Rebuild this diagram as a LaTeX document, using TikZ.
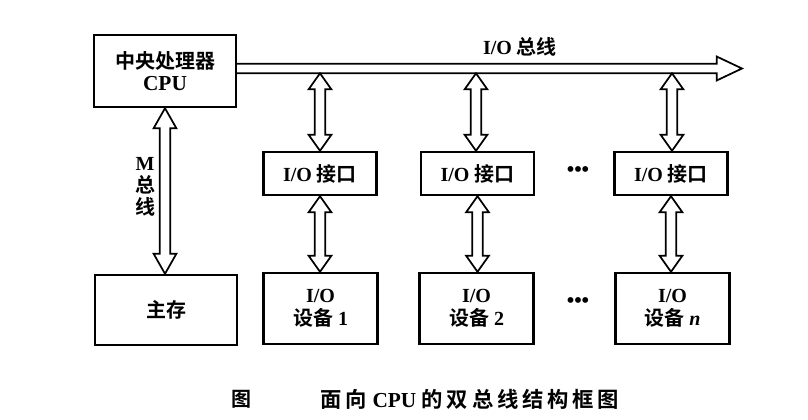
\documentclass[tikz,border=0pt]{standalone}
\usepackage{fontspec}
\setmainfont{Liberation Serif}
\newfontfamily\cjk{Noto Sans CJK SC}[BoldFont={Noto Sans CJK SC Bold}]
\newfontfamily\cjkcap{Noto Sans CJK SC}[BoldFont={Noto Sans CJK SC Bold},BoldFeatures={LetterSpace=18}]
\newcommand\zh[1]{{\cjk #1}}
\newcommand\zhc[1]{{\cjkcap #1}}
\usetikzlibrary{calc}
\tikzset{
  box/.style={draw, line width=1.8pt, align=center, inner sep=0pt},
  ifbox/.style={box, minimum width=84.75pt, minimum height=32.25pt},
  devbox/.style={box, minimum width=85.5pt, minimum height=53.25pt},
  arr/.style={draw, line width=1.3pt, line join=miter, fill=white},
  lbl/.style={inner sep=0pt, align=center}
}
\newcommand\vdarrow[3][12pt]{%
  \draw[arr] let \p1=(#2), \p2=(#3) in
    (\x1,\y1) -- (\x1-8.5pt,\y1-#1) -- (\x1-4pt,\y1-#1) -- (\x1-4pt,\y2+#1)
    -- (\x1-8.5pt,\y2+#1) -- (\x1,\y2) -- (\x1+8.5pt,\y2+#1) -- (\x1+4pt,\y2+#1)
    -- (\x1+4pt,\y1-#1) -- (\x1+8.5pt,\y1-#1) -- cycle;}
\begin{document}
\begin{tikzpicture}[x=0.75pt, y=-0.75pt, font=\bfseries\fontsize{15}{16.5}\selectfont]
\useasboundingbox (0,0) rectangle (808,419);
% main boxes
\node[box, minimum width=106.5pt, minimum height=54pt] (cpu) at (165,71) {\zh{中央处理器}\\{\fontsize{16}{16.5}\selectfont CPU}};
\node[box, minimum width=106.5pt, minimum height=52.5pt] (mem) at (166,310) {\zh{主存}};
\node[ifbox] (if1) at (320,173.5) {I/O \zh{接口}};
\node[ifbox] (if2) at (477.5,173.5) {I/O \zh{接口}};
\node[ifbox] (if3) at (671,173.5) {I/O \zh{接口}};
\node[devbox] (dev1) at (320.5,308.5) {I/O\\[1pt]\zh{设备} 1};
\node[devbox] (dev2) at (476.5,308.5) {I/O\\[1pt]\zh{设备} 2};
\node[devbox] (dev3) at (672.5,308.5) {I/O\\[1pt]\zh{设备} \textit{n}};
% I/O bus
\coordinate (bustip) at (742,68.5);
\draw[arr, fill=none] let \p1=(cpu.east), \p2=(bustip) in
  (\x1,\y2+3.6pt) -- (\x2-19pt,\y2+3.6pt) -- (\x2-19pt,\y2+9pt) -- (\x2,\y2)
  -- (\x2-19pt,\y2-9pt) -- (\x2-19pt,\y2-3.6pt) -- (\x1,\y2-3.6pt);
\coordinate (b1) at (320,73.3);
\coordinate (b2) at (476,73.3);
\coordinate (b3) at (672,73.3);
\vdarrow{b1}{if1.north}
\vdarrow{b2}{if2.north}
\vdarrow{b3}{if3.north}
\vdarrow{if1.south}{dev1.north}
\vdarrow{if2.south}{dev2.north}
\vdarrow{if3.south}{dev3.north}
\vdarrow[15pt]{cpu.south}{mem.north}
% labels
\node[lbl] (buslbl) at (520,47) {I/O \zh{总线}};
\node[lbl] (mlbl) at (145,187) {M\\\zh{总}\\\zh{线}};
\node[lbl, font=\bfseries\fontsize{16}{16}\selectfont] (dots1) at (578,172) {•••};
\node[lbl, font=\bfseries\fontsize{16}{16}\selectfont] (dots2) at (578,303) {•••};
% caption
\node[lbl] (figlbl) at (241,399) {\zh{图}};
\node[lbl, font=\bfseries\fontsize{16}{17}\selectfont] (cap) at (470,399) {\zhc{面向} CPU \zhc{的双总线结构框图}};
\end{tikzpicture}
\end{document}
